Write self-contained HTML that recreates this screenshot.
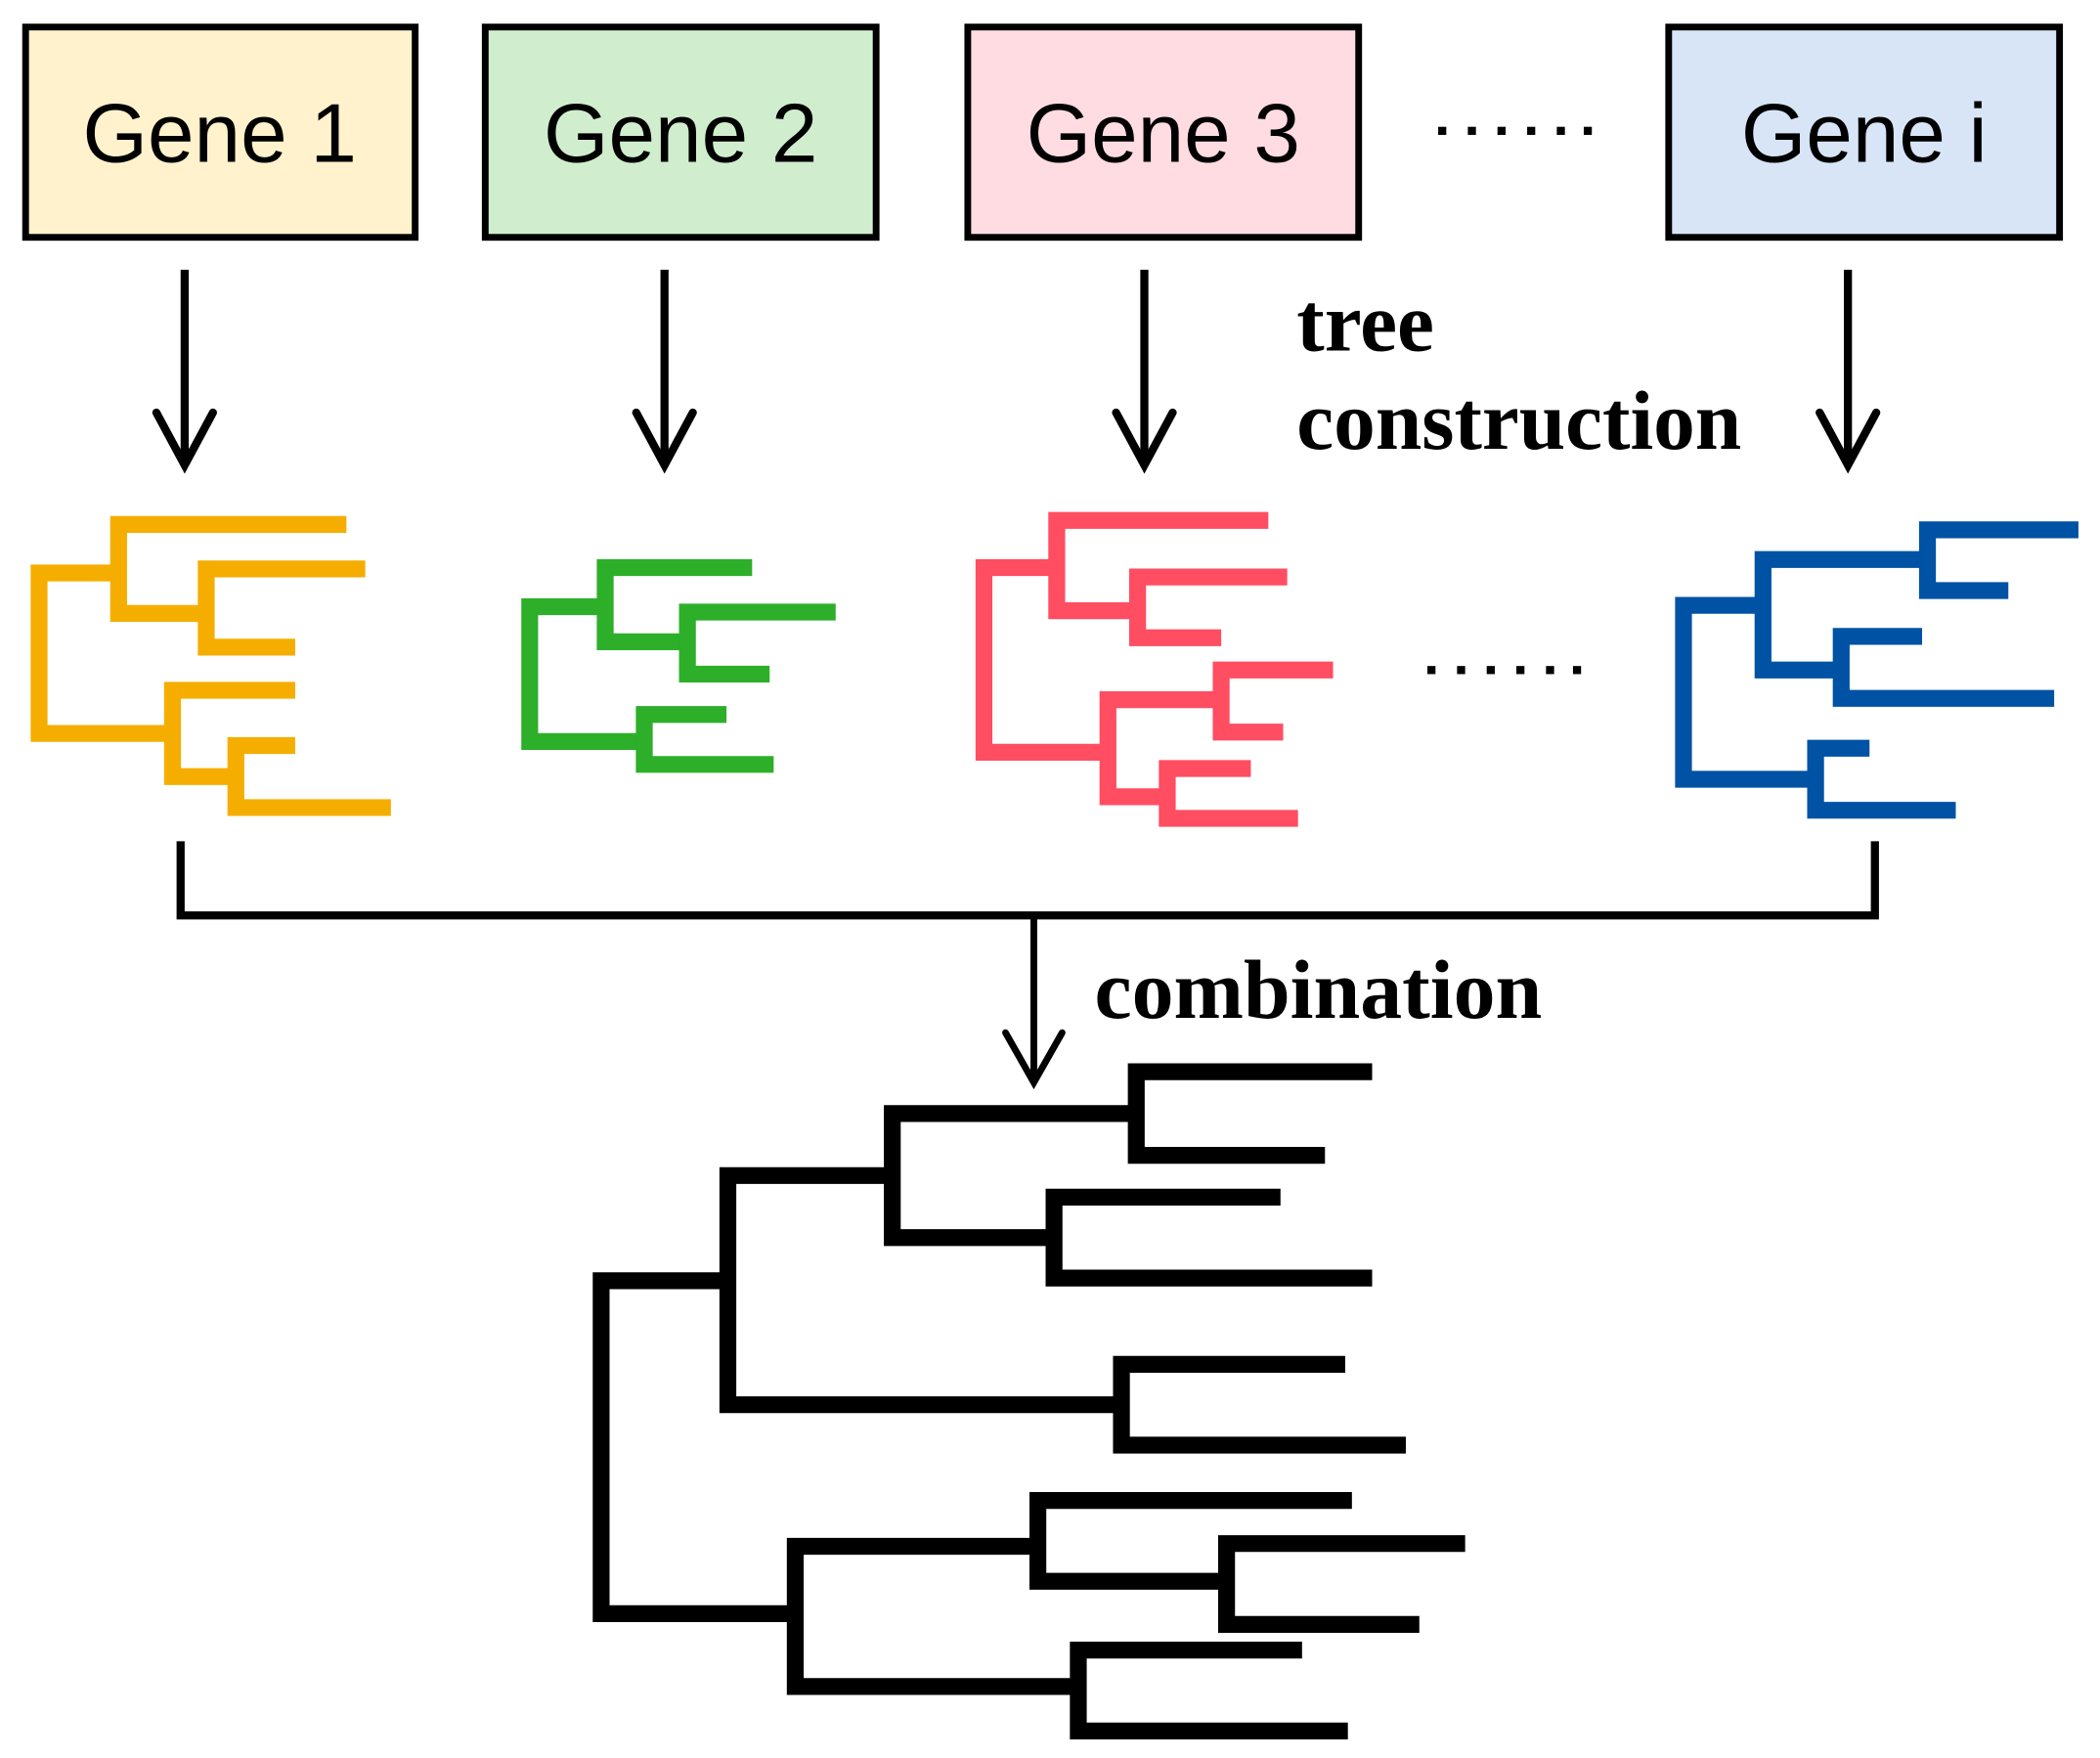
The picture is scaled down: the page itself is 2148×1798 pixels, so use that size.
<!DOCTYPE html>
<html><head><style>html,body{margin:0;padding:0;background:#fff}svg{display:block}</style></head>
<body>
<svg width="2148" height="1798" viewBox="0 0 1558 1304" xmlns="http://www.w3.org/2000/svg">
<rect width="1558" height="1304" fill="#fff"/>
<g stroke="#000" stroke-width="5">
<rect x="19" y="20" width="289" height="156" fill="#fff2cc"/>
<rect x="360" y="20" width="290" height="156" fill="#d0eecd"/>
<rect x="718" y="20" width="290" height="156" fill="#ffdce2"/>
<rect x="1238" y="20" width="290" height="156" fill="#d8e5f6"/>
</g>
<g font-family="Liberation Sans, sans-serif" font-size="62" text-anchor="middle" fill="#000">
<text x="163" y="120">Gene 1</text>
<text x="505" y="120">Gene 2</text>
<text x="863" y="120">Gene 3</text>
<text x="1383" y="120">Gene i</text>
</g>
<g fill="#000">
<rect x="1067" y="94" width="6" height="6"/><rect x="1089" y="94" width="6" height="6"/><rect x="1111" y="94" width="6" height="6"/><rect x="1133" y="94" width="6" height="6"/><rect x="1155" y="94" width="6" height="6"/><rect x="1175" y="94" width="6" height="6"/>
<rect x="1059" y="494" width="6" height="6"/><rect x="1081" y="494" width="6" height="6"/><rect x="1103" y="494" width="6" height="6"/><rect x="1125" y="494" width="6" height="6"/><rect x="1147" y="494" width="6" height="6"/><rect x="1167" y="494" width="6" height="6"/>
</g>
<g stroke="#000" stroke-width="6" fill="none" stroke-linecap="round" stroke-linejoin="miter">
<path d="M137 200V343" stroke-linecap="butt"/><path d="M116 306L137 345L158 306"/>
<path d="M493 200V343" stroke-linecap="butt"/><path d="M472 306L493 345L514 306"/>
<path d="M849 200V343" stroke-linecap="butt"/><path d="M828 306L849 345L870 306"/>
<path d="M1371 200V343" stroke-linecap="butt"/><path d="M1350 306L1371 345L1392 306"/>
<path d="M134 624V679H1391V624" stroke-linecap="butt"/>
<path d="M767 679V801" stroke-width="5" stroke-linecap="butt"/><path d="M746 766L767 803L788 766" stroke-width="5"/>
</g>
<g font-family="Liberation Serif, serif" font-weight="bold" font-size="62" fill="#000">
<text x="962" y="260" textLength="102" lengthAdjust="spacingAndGlyphs">tree</text>
<text x="962" y="333" textLength="330" lengthAdjust="spacingAndGlyphs">construction</text>
<text x="812" y="755" textLength="332" lengthAdjust="spacingAndGlyphs">combination</text>
</g>
<g fill="none" stroke-width="12.5" stroke-linejoin="miter" stroke-linecap="butt">
<g stroke="#f5ae00">
<path d="M257 389H88V455H153"/><path d="M271 422H153V480H219"/><path d="M88 425H29V544H128"/><path d="M219 512H128V576H175"/><path d="M219 553H175V599H290"/>
</g>
<g stroke="#2daf2a">
<path d="M558 421H449V476H510"/><path d="M620 454H510V500H571"/><path d="M449 450H393V550H478"/><path d="M539 530H478V567H574"/>
</g>
<g stroke="#ff4d62">
<path d="M941 386H784V453H844"/><path d="M955 428H844V473H906"/><path d="M784 421H730V558H822"/><path d="M906 519H822V591H866"/><path d="M989 497H906V543H952"/><path d="M928 570H866V607H963"/>
</g>
<g stroke="#0052a5">
<path d="M1542 393H1430V438H1490"/><path d="M1430 415H1308V497H1366"/><path d="M1426 472H1366V518H1524"/><path d="M1308 449H1249V578H1347"/><path d="M1387 555H1347V601H1451"/>
</g>
<g stroke="#000">
<path d="M1018 795H843V857H983"/><path d="M843 826H662V918H782"/><path d="M950 888H782V948H1018"/><path d="M662 872H540V1042H832"/><path d="M998 1012H832V1072H1043"/><path d="M540 950H446V1197H590"/><path d="M770 1147H590V1251H800"/><path d="M1003 1113H770V1173H910"/><path d="M1087 1145H910V1205H1053"/><path d="M966 1224H800V1284H1000"/>
</g>
</g>
</svg>
</body></html>
